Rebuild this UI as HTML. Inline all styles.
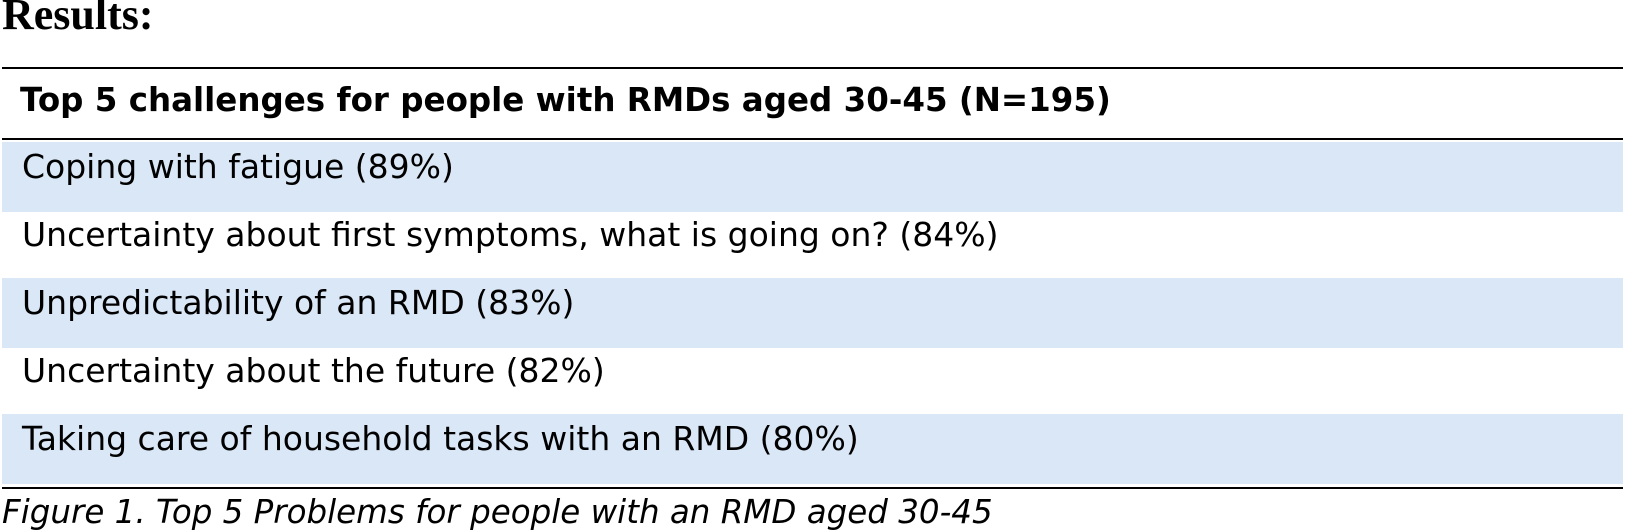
<!DOCTYPE html>
<html><head><meta charset="utf-8"><style>
body{margin:0;width:1625px;height:531px;background:#fff;position:relative;overflow:hidden;font-family:"DejaVu Sans","Liberation Sans",sans-serif;color:#000}
.abs{position:absolute}
.row{position:absolute;left:2px;width:1621px;height:70px}
.blue{background:#dae7f6}
.txt{position:absolute;left:20px;top:5px;font-size:33px;white-space:nowrap;line-height:40px}
.line{position:absolute;left:2px;width:1621px;height:2px;background:#000}
</style></head><body>
<div class="abs" style="left:2px;top:-11px;font-family:'Liberation Serif',serif;font-weight:bold;font-size:44px">Results:</div>
<div class="line" style="top:67px"></div>
<div class="abs" style="left:20px;top:80px;font-size:32.5px;line-height:40px;font-weight:bold;white-space:nowrap">Top 5 challenges for people with RMDs aged 30-45 (N=195)</div>
<div class="line" style="top:138px"></div>
<div class="row blue" style="top:142px"><div class="txt">Coping with fatigue (89%)</div></div>
<div class="row" style="top:210px"><div class="txt">Uncertainty about first symptoms, what is going on? (84%)</div></div>
<div class="row blue" style="top:278px"><div class="txt">Unpredictability of an RMD (83%)</div></div>
<div class="row" style="top:346px"><div class="txt">Uncertainty about the future (82%)</div></div>
<div class="row blue" style="top:414px"><div class="txt">Taking care of household tasks with an RMD (80%)</div></div>
<div class="line" style="top:487px"></div>
<div class="abs" style="left:2px;top:492px;font-size:32.5px;line-height:40px;font-style:italic;white-space:nowrap">Figure 1. Top 5 Problems for people with an RMD aged 30-45</div>
</body></html>
